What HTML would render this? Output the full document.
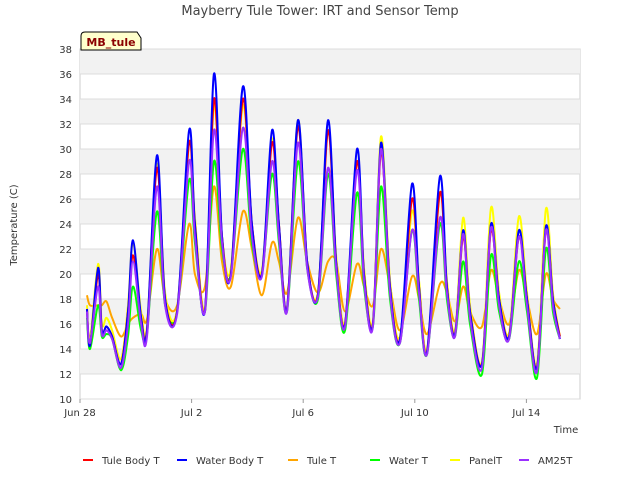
<!DOCTYPE html>
<html><head><meta charset="utf-8"><style>
body{margin:0;background:#fff;font-family:"Liberation Sans","DejaVu Sans",sans-serif}
</style></head><body>
<svg id="c" width="640" height="480" xmlns="http://www.w3.org/2000/svg" font-family="DejaVu Sans, Liberation Sans, sans-serif">
<text x="320" y="15" text-anchor="middle" font-size="13" fill="#444">Mayberry Tule Tower: IRT and Sensor Temp</text>
<g id="bands"></g><g id="grid"></g><g id="series"></g><g id="axes"></g>
<text transform="translate(17,225) rotate(-90)" text-anchor="middle" font-size="10" fill="#333">Temperature (C)</text>
<text x="566" y="433" text-anchor="middle" font-size="10" fill="#333">Time</text>
<g><path d="M81,50 L81,36 Q81,32 85,32 L137,32 L141,38 L141,50 Z" fill="#ffffcc" stroke="#000" stroke-width="1"/><text x="111" y="46" text-anchor="middle" font-size="11" font-weight="bold" fill="#8b0000">MB_tule</text></g>
<g id="legend"></g>
</svg>
<script>
const times=[.25,.36,.65,.78,.95,1.15,1.47,1.72,1.90,2.19,2.40,2.76,3.05,3.48,3.91,4.12,4.48,4.80,5.09,5.41,5.84,6.16,6.52,6.88,7.13,7.42,7.81,8.14,8.53,8.89,9.18,9.50,9.93,10.18,10.50,10.79,11.11,11.47,11.90,12.15,12.44,12.90,13.15,13.44,13.73,13.98,14.41,14.73,15.02,15.38,15.73,16.02,16.38,16.70,16.95,17.20];
const tuleBody=[17.2,14.3,20,15.5,15.8,15,12.8,17,21.5,16.5,15.5,28.5,18,17,30.5,24,17.1,34,23,20,34,24,20,30.5,24,17.2,31.8,21,18.4,31.5,21,16,29,20,16,29.8,19,14.8,26,19,13.8,26.5,19,15.2,23,17,12.8,23.5,18,15,23,18,12.5,23.5,18,15];
const waterBody=[17.2,14.3,20.5,15.5,15.8,15.0,12.8,17,22.7,16.5,15.5,29.5,18,17,31.5,24,17.1,36,23,20,35,24,20,31.5,24,17.2,32.3,21,18.4,32.3,21,16,30,20,16,30.5,19,14.8,27.2,19,13.8,27.8,19,15.2,23.5,17,12.8,24,18,15,23.5,18,12.5,23.8,18,14.8];
const tuleT=[18.3,17.5,17.5,17.5,17.8,16.5,15,16,16.5,16.8,16.4,22,18,17.5,24,20,19,27,21,19,25,22,18.3,22.5,21,18.5,24.5,21,18.5,21,21,17,20.8,19,17.5,22,19,15.5,19.8,18,15.2,19.2,18.5,16.2,19,17,15.8,20.3,18,16,20.3,18,15.2,20,18,17.2];
const waterT=[16.5,14,17.5,15,15.2,14.8,12.3,15,19,15.5,15.2,25,17.5,17,27.5,22.5,17,29,22,20,30,22.5,20,28,22.5,17,29,20.5,18,28,20,15.5,26.5,19,15.8,27,18,14.5,23.5,18,13.6,24,18,15,21,16,12,21.5,17,14.8,21,17,11.7,22,17,14.8];
const panelT=[17.5,14.8,20.8,16,16.5,15.5,13.2,17.5,22.5,17,15.8,28.8,18.5,17.2,30.5,24.5,17.3,33.5,23,20.5,33.5,24,20.3,30.8,24,17.3,32.3,21,18.6,31.5,21.5,16.2,29,20.5,16.3,31,19.5,15,25,19.5,14,26.5,19.5,15.5,24.5,17.5,13,25.3,18.5,15.3,24.6,18.5,12.8,25.2,18.5,15];
const am25T=[17,14.5,19,15.2,15.5,14.8,12.5,16,21,16,15,27,17.5,16.8,29,23,17,31.5,22.5,19.8,31.7,23,19.8,29,23,17,30.5,20.5,18.2,28.5,20.5,15.8,28.3,19.5,15.8,30,18.5,14.5,23.5,18.5,13.6,24.5,18.5,15,23.2,16.5,12.5,23.7,17.5,14.8,23,17.5,12.2,23.5,17.5,14.8];
const yTicks=[10,12,14,16,18,20,22,24,26,28,30,32,34,36,38];
const xTickDays=[0,4,8,12,16];
const xTickLabels=["Jun 28","Jul 2","Jul 6","Jul 10","Jul 14"];
const seriesNames=["Tule Body T","Water Body T","Tule T","Water T","PanelT","AM25T"];
const seriesColors=["#ff0000","#0000ff","#ffa500","#00ff00","#ffff00","#9b30ff"];
const seriesData=[tuleBody,waterBody,tuleT,waterT,panelT,am25T];
const X0=80,X1=580,Y0=399,Y1=49;
const xs=d=>X0+d*27.9;
const ys=v=>Y0-(v-10)*(Y0-Y1)/28;
const NS="http://www.w3.org/2000/svg";
function mk(tag,attrs,parent){const e=document.createElementNS(NS,tag);for(const k in attrs)e.setAttribute(k,attrs[k]);parent.appendChild(e);return e;}
const bands=document.getElementById('bands'),grid=document.getElementById('grid'),axes=document.getElementById('axes'),ser=document.getElementById('series'),leg=document.getElementById('legend');
mk('rect',{x:X0,y:Y1,width:X1-X0,height:Y0-Y1,fill:'#fff',stroke:'#ccc'},bands);
for(let v=12;v<38;v+=4){const r=mk('rect',{x:X0,y:ys(v+2),width:X1-X0,height:ys(v)-ys(v+2),fill:'#f2f2f2'},bands);

}
yTicks.forEach(v=>{const l=mk('line',{x1:X0,x2:X1,y1:ys(v),y2:ys(v),stroke:'#dcdcdc'},grid);


const t=mk('text',{x:X0-8,y:ys(v)+4,'text-anchor':'end','font-size':10,fill:'#333'},axes);t.textContent=v;

});
xTickDays.forEach((d,i)=>{mk('line',{x1:xs(d),x2:xs(d),y1:Y0,y2:Y0+4,stroke:'#999'},axes);
const t=mk('text',{x:xs(d),y:Y0+17,'text-anchor':'middle','font-size':10,fill:'#333'},axes);t.textContent=xTickLabels[i];

});
function smooth(pts){let d='M'+pts[0][0]+','+pts[0][1];for(let i=0;i<pts.length-1;i++){const p0=pts[Math.max(0,i-1)],p1=pts[i],p2=pts[i+1],p3=pts[Math.min(pts.length-1,i+2)];
const c1=[p1[0]+(p2[0]-p0[0])/6,p1[1]+(p2[1]-p0[1])/6],c2=[p2[0]-(p3[0]-p1[0])/6,p2[1]-(p3[1]-p1[1])/6];
d+=' C'+c1[0].toFixed(1)+','+c1[1].toFixed(1)+' '+c2[0].toFixed(1)+','+c2[1].toFixed(1)+' '+p2[0].toFixed(1)+','+p2[1].toFixed(1);}return d;}
const order=[2,3,4,0,1,5];
order.forEach(i=>{const pts=times.map((t,j)=>[xs(t),ys(seriesData[i][j])]);
const p=mk('path',{d:smooth(pts),fill:'none',stroke:seriesColors[i],'stroke-width':2,'stroke-linejoin':'round'},ser);

});
const legX=[83,177,288,370,450,519];
seriesNames.forEach((n,i)=>{const g=mk('g',{},leg);


mk('line',{x1:legX[i],x2:legX[i]+10,y1:460,y2:460,stroke:seriesColors[i],'stroke-width':2},g);
const t=mk('text',{x:legX[i]+19,y:464,'font-size':10,fill:'#333'},g);t.textContent=n;});
</script>
</body></html>
